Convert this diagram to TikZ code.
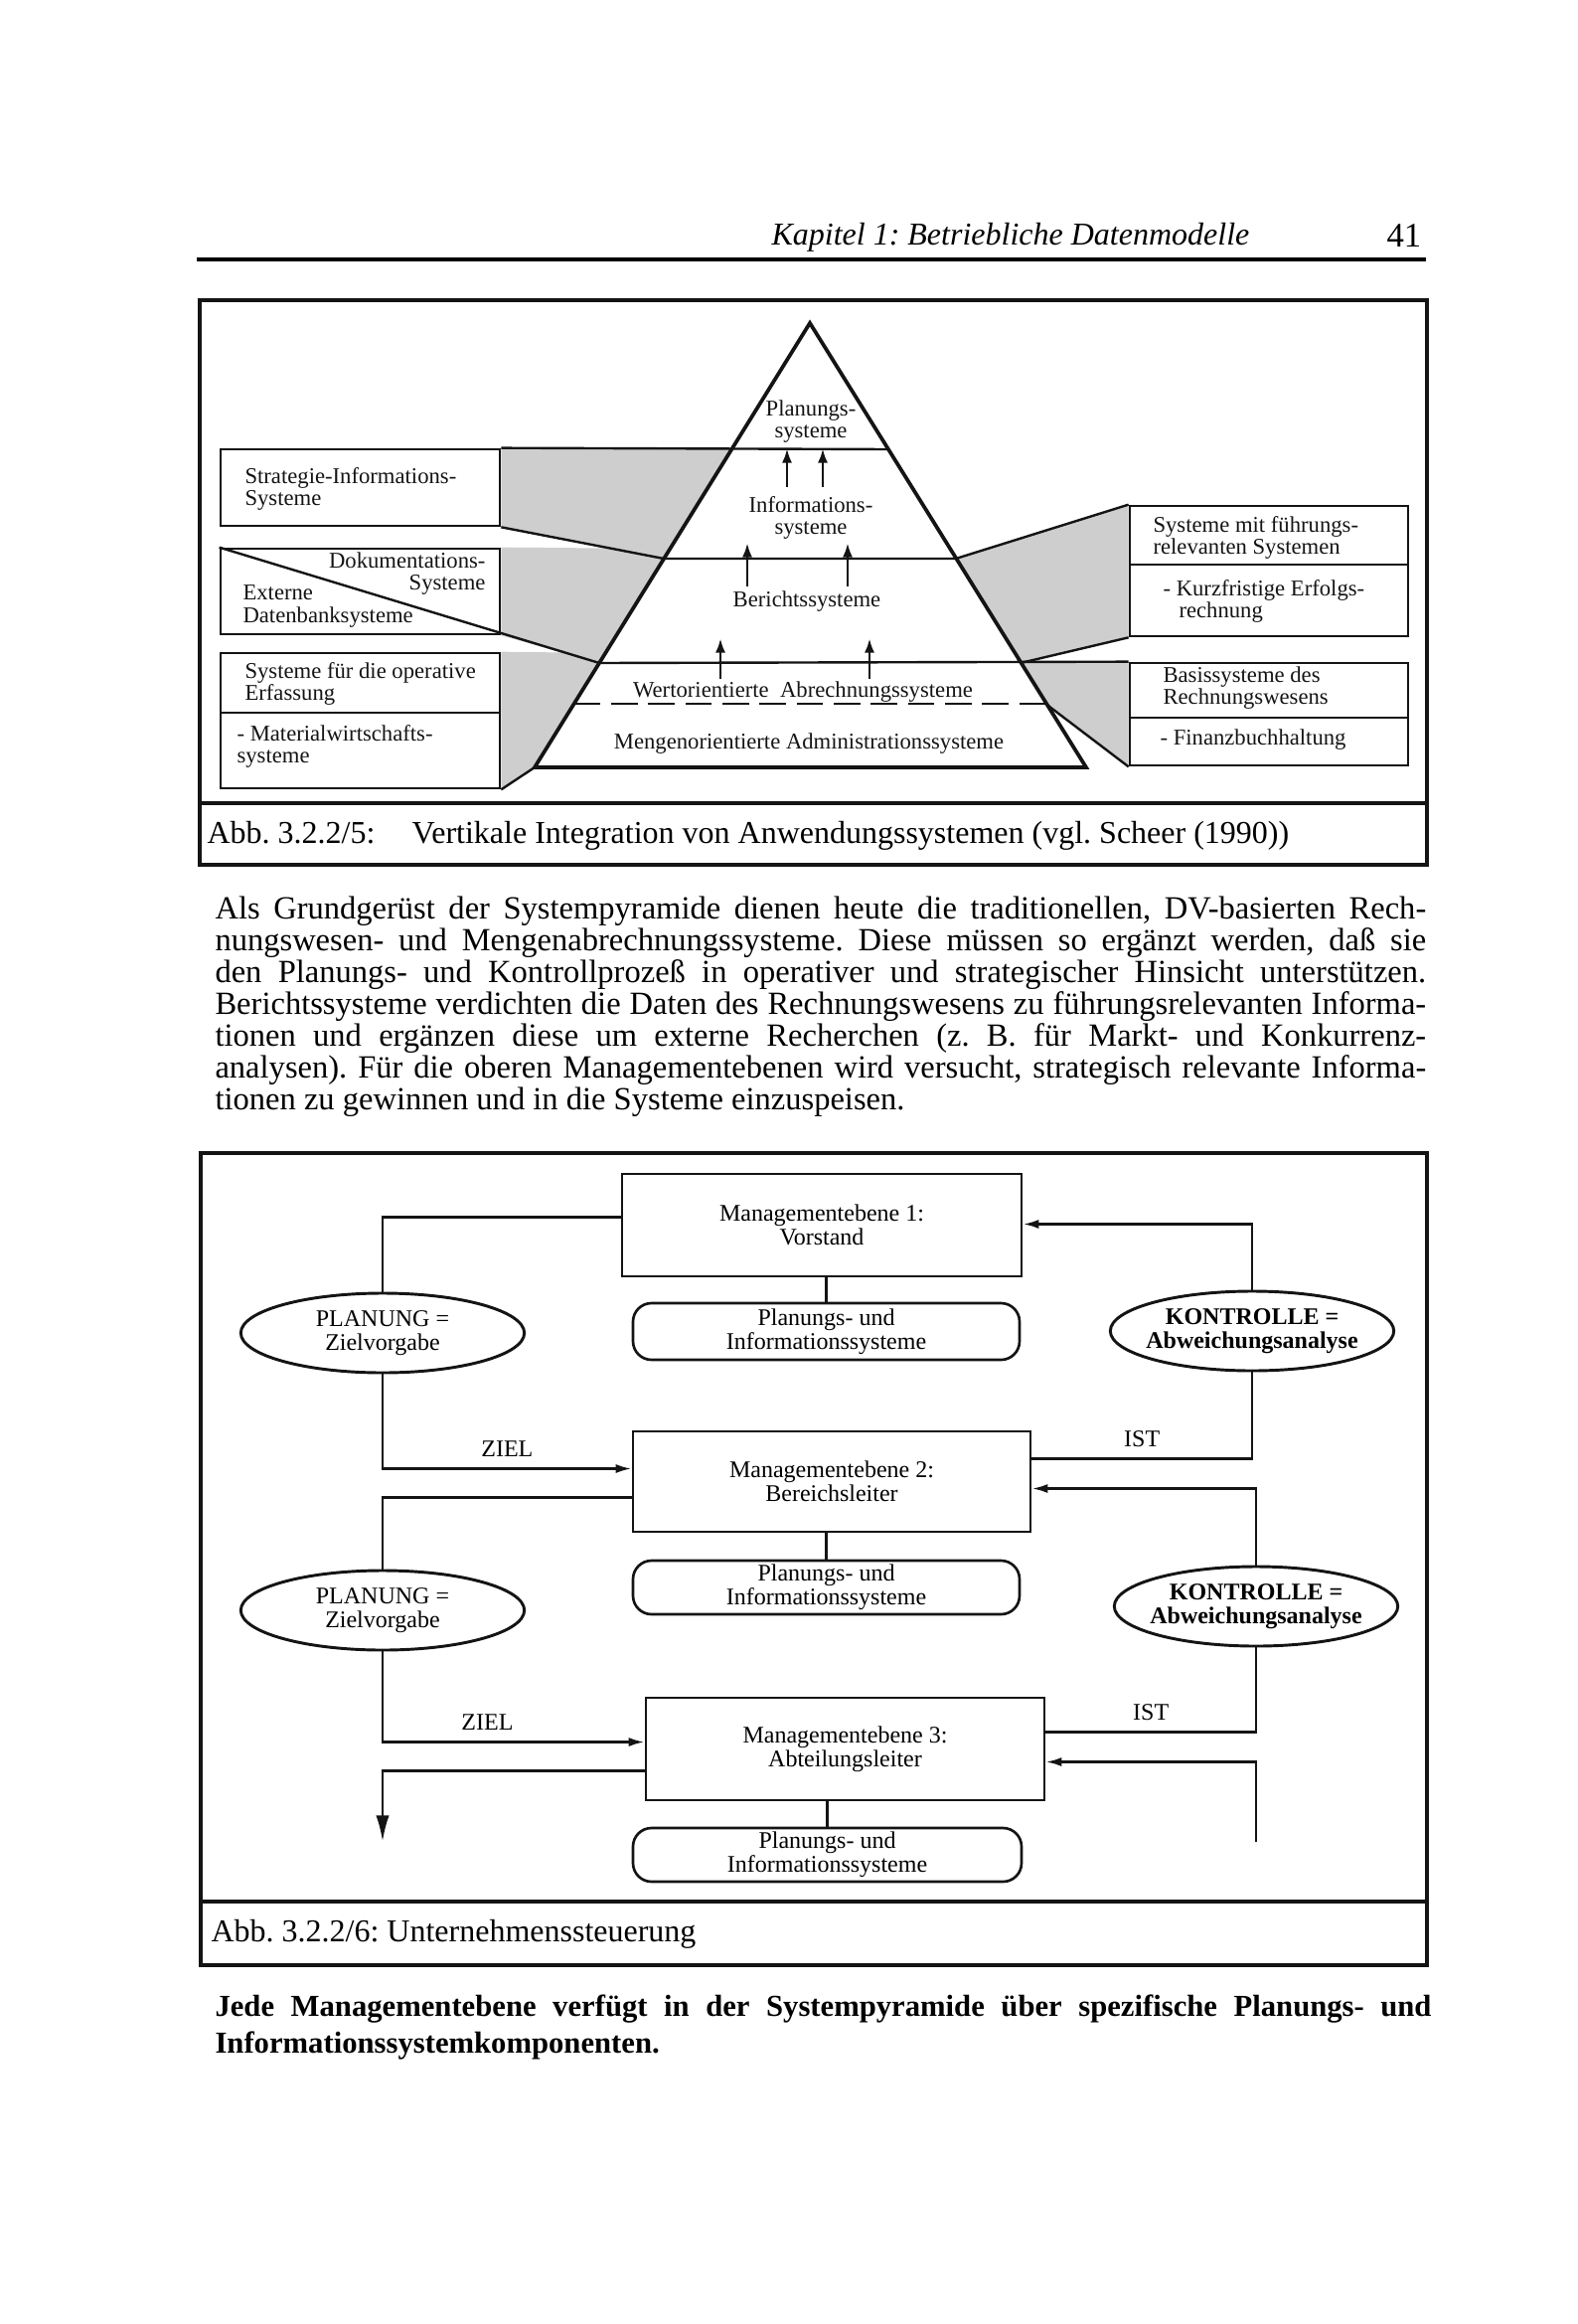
\documentclass[tikz,border=0pt]{standalone}
\usepackage{fontspec}
\setmainfont{Liberation Serif}
\usepackage{tikz}
\usetikzlibrary{arrows.meta,calc,fit,shapes.geometric}
\definecolor{ink}{HTML}{141414}
\definecolor{dotgray}{HTML}{CECECE}
\newcommand\figfont{\fontsize{8.5}{8.3}\selectfont}
\newcommand\mgfont{\fontsize{9}{9}\selectfont}
\frenchspacing
\tikzset{
  frame/.style={draw=ink,line width=1.2pt},
  box/.style={draw=ink,line width=1pt,inner sep=0pt},
  mbox/.style={box},
  ibox/.style={box,rounded corners=7pt},
  mtxt/.style={font=\mgfont,align=center,inner sep=0pt},
  ell/.style={ellipse,draw=ink,line width=1.1pt,inner sep=0pt,minimum width=107pt,minimum height=30pt},
  etxt/.style={font=\mgfont,align=center,inner sep=0pt},
  lab/.style={font=\mgfont,inner sep=0pt},
  ptxt/.style={font=\figfont,inner sep=0pt,align=left,text=ink},
  pline/.style={draw=ink,line width=0.9pt},
  pedge/.style={draw=ink,line width=1.4pt,line join=miter},
  dotarea/.style={fill=dotgray,draw=none},
  parr/.style={-{Latex[length=5.5pt,width=3.8pt]},draw=ink,line width=1.1pt},
  arr/.style={-{Latex[length=6pt,width=3.4pt]},draw=ink,line width=1pt},
  bigarr/.style={-{Latex[length=10pt,width=5pt]},draw=ink,line width=1.1pt},
  cline/.style={draw=ink,line width=1pt},
  captxt/.style={font=\fontsize{12}{12}\selectfont,inner sep=0pt},
  headtxt/.style={font=\fontsize{12}{12}\selectfont,inner sep=0pt},
  bodytxt/.style={font=\fontsize{12.2}{12}\selectfont,text width=457pt,align=justify,inner sep=0pt},
}

\begin{document}
\begin{tikzpicture}[x=0.375pt,y=-0.375pt]
\useasboundingbox (0,0) rectangle (1587,2338);

% page head
\node[headtxt,anchor=west] (kap) at (776,239) {\textit{Kapitel 1: Betriebliche Datenmodelle}};
\node[headtxt,anchor=west,font=\fontsize{13}{13}\selectfont] (pnum) at (1395,237) {41};
\draw[line width=1.3pt] (198,261) -- (1435,261);

% ---- Abb. 3.2.2/5
\draw[frame] (201,302) rectangle (1436,870);
\draw[frame] (201,808) -- (1436,808);
\node[captxt,anchor=west] (cap5) at (208,841) {Abb. 3.2.2/5:\hspace{14pt}Vertikale Integration von Anwendungssystemen (vgl. Scheer (1990))};

\coordinate (apex) at (815,325);
\coordinate (bl) at (538,772);
\coordinate (br) at (1093,772);
\coordinate (l1a) at (736.3,452);  \coordinate (l1b) at (893.7,452);
\coordinate (l2a) at (668.1,562);  \coordinate (l2b) at (961.9,562);
\coordinate (l3a) at (603.1,667);  \coordinate (l3b) at (1026.9,667);
\coordinate (l4a) at (577.7,708);  \coordinate (l4b) at (1052.3,708);
\coordinate (s2t) at (674.3,552);
\coordinate (s3t) at (609.3,657);

\node[box,fit={(222,452) (503,529)}] (sis) {};
\node[box,fit={(222,552) (503,638)}] (dok) {};
\node[box,fit={(222,657) (503,717)}] (ope) {};
\node[box,fit={(222,717) (503,793)}] (mat) {};
\node[box,fit={(1137,509) (1417,568)}] (fuehr) {};
\node[box,fit={(1137,568) (1417,640)}] (erfolg) {};
\node[box,fit={(1137,667) (1417,722)}] (basis) {};
\node[box,fit={(1137,722) (1417,770)}] (fibu) {};

% dotted areas
\path[dotarea] (sis.north east) -- (l1a) -- (l2a) -- (sis.south east) -- cycle;
\path[dotarea] (dok.north east) -- (s2t) -- (l3a) -- (dok.south east) -- cycle;
\path[dotarea] (ope.north east) -- (s3t) -- (bl) -- (mat.south east) -- cycle;
\path[dotarea] (l2b) -- (fuehr.north west) -- (erfolg.south west) -- (l3b) -- cycle;
\path[dotarea] (l3b) -- (basis.north west) -- (fibu.south west) -- (l4b) -- cycle;

\draw[pline] (sis.north east) -- (l1b);
\draw[pline] (sis.south east) -- (l2a) -- (l2b) -- (fuehr.north west);
\draw[pline] (dok.north west) -- (l3a) -- (basis.north west);
\draw[pline] (l3b) -- (erfolg.south west);
\draw[pline] (l4b) -- (fibu.south west);
\draw[pline] (bl) -- (mat.south east);
\draw[pline,dash pattern=on 10pt off 4pt] (l4a) -- (l4b);
\draw[pedge] (apex) -- (bl) -- (br) -- cycle;

\foreach \ax/\ay/\az in {792/490/451,828/490/451,752/590/546,853/590/546,725/683/642,875/683/642}
  \draw[parr] (\ax,\ay) -- (\ax,\az);

\node[ptxt,align=center] (plan) at (816,424) {Planungs-\\systeme};
\node[ptxt,align=center] (info) at (816,521) {Informations-\\systeme};
\node[ptxt] (ber) at (812,605) {Berichtssysteme};
\node[ptxt] (wert) at (808,696) {Wertorientierte~~Abrechnungssysteme};
\node[ptxt] (meng) at (814,748) {Mengenorientierte Administrationssysteme};

\node[ptxt,anchor=west] (sisT) at (246,492) {Strategie-Informations-\\Systeme};
\node[ptxt,anchor=east,align=right] (dokT) at (489,577) {Dokumentations-\\Systeme};
\node[ptxt,anchor=west] (extT) at (244,610) {Externe\\Datenbanksysteme};
\node[ptxt,anchor=west] (opeT) at (246,688) {Systeme für die operative\\Erfassung};
\node[ptxt,anchor=west] (matT) at (238,751) {- Materialwirtschafts-\\systeme};
\node[ptxt,anchor=west] (fuehrT) at (1160,541) {Systeme mit führungs-\\relevanten Systemen};
\node[ptxt,anchor=west] (erfolgT) at (1170,605) {- Kurzfristige Erfolgs-\\\hspace*{6pt}rechnung};
\node[ptxt,anchor=west] (basisT) at (1170,692) {Basissysteme des\\Rechnungswesens};
\node[ptxt,anchor=west] (fibuT) at (1167,744) {- Finanzbuchhaltung};

% body text
\node[bodytxt,anchor=north west] (para) at (216,901) {Als Grundgerüst der Systempyramide dienen heute die traditionellen, DV-basierten Rech-\linebreak
nungswesen- und Mengenabrechnungssysteme. Diese müssen so ergänzt werden, daß sie\linebreak
den Planungs- und Kontrollprozeß in operativer und strategischer Hinsicht unterstützen.\linebreak
Berichtssysteme verdichten die Daten des Rechnungswesens zu führungsrelevanten Informa-\linebreak
tionen und ergänzen diese um externe Recherchen (z.~B. für Markt- und Konkurrenz-\linebreak
analysen). Für die oberen Managementebenen wird versucht, strategisch relevante Informa-\linebreak
tionen zu gewinnen und in die Systeme einzuspeisen.};

% ---- Abb. 3.2.2/6
\draw[frame] (202,1160) rectangle (1436,1977);
\draw[frame] (202,1913) -- (1436,1913);
\node[captxt,anchor=west] (cap6) at (212,1946) {Abb. 3.2.2/6: Unternehmenssteuerung};

\node[mbox,fit={(626,1181) (1028,1284)}] (M1) {};
\node[mtxt] (M1t) at (M1) {Managementebene 1:\\Vorstand};
\node[ibox,fit={(637,1311) (1026,1368)}] (P1) {};
\node[mtxt] (P1t) at (P1) {Planungs- und\\Informationssysteme};
\node[mbox,fit={(637,1440) (1037,1541)}] (M2) {};
\node[mtxt] (M2t) at (M2) {Managementebene 2:\\Bereichsleiter};
\node[ibox,fit={(637,1570) (1026,1624)}] (P2) {};
\node[mtxt] (P2t) at (P2) {Planungs- und\\Informationssysteme};
\node[mbox,fit={(650,1708) (1051,1811)}] (M3) {};
\node[mtxt] (M3t) at (M3) {Managementebene 3:\\Abteilungsleiter};
\node[ibox,fit={(637,1839) (1028,1893)}] (P3) {};
\node[mtxt] (P3t) at (P3) {Planungs- und\\Informationssysteme};

\node[ell] (PL1) at (385,1341) {};
\node[etxt] (PL1t) at (PL1) {PLANUNG =\\Zielvorgabe};
\node[ell] (PL2) at (385,1620) {};
\node[etxt] (PL2t) at (PL2) {PLANUNG =\\Zielvorgabe};
\node[ell] (KO1) at (1260,1339) {};
\node[etxt,font=\mgfont\bfseries] (KO1t) at (KO1) {KONTROLLE =\\Abweichungsanalyse};
\node[ell] (KO2) at (1264,1616) {};
\node[etxt,font=\mgfont\bfseries] (KO2t) at (KO2) {KONTROLLE =\\Abweichungsanalyse};

\coordinate (downend) at (385,1853);
\coordinate (upend) at (1264,1853);

\draw[cline] (P1.north) -- (P1.north |- M1.south);
\draw[cline] (P2.north) -- (P2.north |- M2.south);
\draw[cline] (P3.north) -- (P3.north |- M3.south);

% planning side
\draw[cline] ($(M1.west)+(0,-8)$) -| (PL1.north);
\draw[arr] (PL1.south) |- ($(M2.west)+(0,-13)$) node[lab,pos=0.75,above=4pt] (ziel1) {ZIEL};
\draw[cline] ($(M2.west)+(0,16)$) -| (PL2.north);
\draw[arr] (PL2.south) |- ($(M3.west)+(0,-7)$) node[lab,pos=0.7,above=4pt] (ziel2) {ZIEL};
\draw[bigarr] ($(M3.west)+(0,22)$) -| (downend);

% control side
\draw[arr] (KO1.north) |- ($(M1.east)+(0,-1)$);
\draw[cline] (KO1.south) |- ($(M2.east)+(0,-23)$) node[lab,pos=0.75,above=4pt] (ist1) {IST};
\draw[arr] (KO2.north) |- ($(M2.east)+(0,7)$);
\draw[cline] (KO2.south) |- ($(M3.east)+(0,-17)$) node[lab,pos=0.75,above=4pt] (ist2) {IST};
\draw[arr] (upend) |- ($(M3.east)+(0,13)$);

% closing sentence
\node[bodytxt,anchor=north west,text width=459pt,font=\fontsize{11.5}{14}\selectfont\bfseries] (schluss) at (216,2006) {Jede Managementebene verfügt in der Systempyramide über spezifische Planungs- und\linebreak
Informationssystemkomponenten.};
\end{tikzpicture}
\end{document}
